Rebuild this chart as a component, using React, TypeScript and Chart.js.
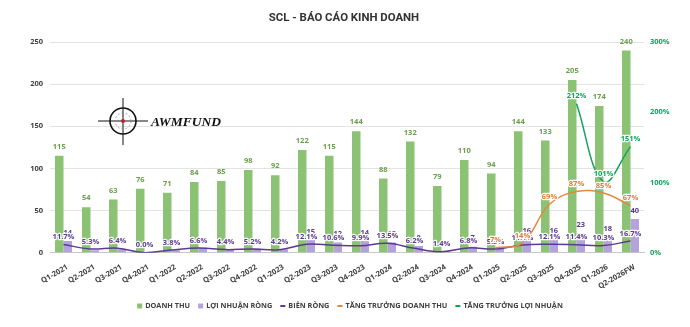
import React, { useEffect, useRef } from "react";
import { Chart, registerables } from "chart.js";

Chart.register(...registerables);

const TITLE = "SCL - BÁO CÁO KINH DOANH";

const categories = [
  "Q1-2021", "Q2-2021", "Q3-2021", "Q4-2021",
  "Q1-2022", "Q2-2022", "Q3-2022", "Q4-2022",
  "Q1-2023", "Q2-2023", "Q3-2023", "Q4-2023",
  "Q1-2024", "Q2-2024", "Q3-2024", "Q4-2024",
  "Q1-2025", "Q2-2025", "Q3-2025", "Q4-2025",
  "Q1-2026", "Q2-2026FW",
];

const revenue = [115, 54, 63, 76, 71, 84, 85, 98, 92, 122, 115, 144, 88, 132, 79, 110, 94, 144, 133, 205, 174, 240];
const netProfit = [14, 3, 4, 0, 3, 6, 4, 5, 4, 15, 12, 14, 12, 8, 1, 7, 5, 16, 16, 23, 18, 40];
const netMargin = [11.7, 5.3, 6.4, 0.0, 3.8, 6.6, 4.4, 5.2, 4.2, 12.1, 10.6, 9.9, 13.5, 6.2, 1.4, 6.8, 5.3, 11.1, 12.1, 11.4, 10.3, 16.7];
const revenueGrowth = [null, null, null, null, null, null, null, null, null, null, null, null, null, null, null, null, 7, 14, 69, 87, 85, 67];
const profitGrowth = [null, null, null, null, null, null, null, null, null, null, null, null, null, null, null, null, null, null, null, 212, 101, 151];

const leftTicks = [0, 50, 100, 150, 200, 250];
const rightTicks = [0, 100, 200, 300];

const legendItems = [
  { label: "DOANH THU", kind: "rect", color: "#8cc273" },
  { label: "LỢI NHUẬN RÒNG", kind: "rect", color: "#b3a2dc" },
  { label: "BIÊN RÒNG", kind: "line", color: "#5b3a93" },
  { label: "TĂNG TRƯỞNG DOANH THU", kind: "line", color: "#e3893f" },
  { label: "TĂNG TRƯỞNG LỢI NHUẬN", kind: "line", color: "#13a25c" },
];

const GREEN_BAR = "#8cc273";
const PURPLE_BAR = "#b3a2dc";
const MARGIN_LINE = "#5b3a93";
const ORANGE = "#e3893f";
const GREEN_LINE = "#13a25c";

const FONT = '"Open Sans", "DejaVu Sans", sans-serif';

const bgPlugin = {
  id: "bg",
  beforeDraw(chart: any) {
    const c = chart.ctx;
    c.save();
    c.fillStyle = "#ffffff";
    c.fillRect(0, 0, chart.width, chart.height);
    c.restore();
  },
};

function haloText(c: CanvasRenderingContext2D, t: string, x: number, y: number, color: string) {
  c.lineJoin = "round";
  c.strokeStyle = "rgba(255,255,255,0.95)";
  c.lineWidth = 2.5;
  c.strokeText(t, x, y);
  c.fillStyle = color;
  c.fillText(t, x, y);
}

const labelPlugin = {
  id: "valueLabels",
  afterDatasetsDraw(chart: any) {
    const c: CanvasRenderingContext2D = chart.ctx;
    c.save();
    c.textAlign = "center";
    c.textBaseline = "middle";
    c.font = `bold 7.5px ${FONT}`;
    const m0 = chart.getDatasetMeta(0);
    m0.data.forEach((el: any, i: number) => {
      c.fillStyle = "#6a9f4b";
      c.fillText(String(revenue[i]), el.x, el.y - 9);
    });
    const m1 = chart.getDatasetMeta(1);
    m1.data.forEach((el: any, i: number) => {
      if (netProfit[i] >= 7) {
        c.fillStyle = "#5b3a93";
        c.fillText(String(netProfit[i]), el.x, el.y - 8.5);
      }
    });
    const m2 = chart.getDatasetMeta(2);
    m2.data.forEach((el: any, i: number) => {
      haloText(c, netMargin[i].toFixed(1) + "%", el.x, el.y - 7.5, "#5b3a93");
    });
    const m3 = chart.getDatasetMeta(3);
    m3.data.forEach((el: any, i: number) => {
      const v = revenueGrowth[i];
      if (v === null || v === undefined) return;
      haloText(c, v + "%", el.x, el.y - 7.5, "#e07b39");
    });
    const m4 = chart.getDatasetMeta(4);
    m4.data.forEach((el: any, i: number) => {
      const v = profitGrowth[i];
      if (v === null || v === undefined) return;
      haloText(c, v + "%", el.x, el.y - 7.5, GREEN_LINE);
    });
    c.restore();
  },
};

const decorPlugin = {
  id: "decor",
  afterDraw(chart: any) {
    const c: CanvasRenderingContext2D = chart.ctx;
    c.save();
    // title
    c.font = `bold 11.4px Roboto, ${FONT}`;
    c.fillStyle = "#333333";
    c.textAlign = "center";
    c.textBaseline = "middle";
    c.fillText(TITLE, 344, 18.5);

    // logo
    const cx = 123, cy = 121;
    c.strokeStyle = "#111111";
    c.lineWidth = 1;
    c.beginPath();
    c.moveTo(98, cy); c.lineTo(148, cy);
    c.moveTo(cx, 98); c.lineTo(cx, 145);
    c.stroke();
    c.lineWidth = 1.6;
    c.beginPath();
    c.arc(cx, cy, 13, 0, Math.PI * 2);
    c.stroke();
    c.setLineDash([2, 2]);
    c.lineWidth = 0.7;
    c.strokeStyle = "#888888";
    c.beginPath();
    c.arc(cx, cy, 8, 0, Math.PI * 2);
    c.stroke();
    c.setLineDash([]);
    c.fillStyle = "#c0202a";
    c.beginPath();
    c.arc(cx, cy, 2, 0, Math.PI * 2);
    c.fill();
    c.font = 'italic bold 13.5px "Liberation Serif", "DejaVu Serif", serif';
    c.fillStyle = "#111111";
    c.textAlign = "left";
    c.textBaseline = "alphabetic";
    c.fillText("AWMFUND", 151, 126);

    // legend
    c.font = `bold 7.3px ${FONT}`;
    c.textBaseline = "middle";
    const gap = 8;
    const mW = 5, mGap = 3;
    const widths = legendItems.map((it) => mW + mGap + c.measureText(it.label).width);
    const total = widths.reduce((a, b) => a + b, 0) + gap * (legendItems.length - 1);
    let x = 350 - total / 2;
    const ly = 306;
    legendItems.forEach((it, i) => {
      c.fillStyle = it.color;
      if (it.kind === "rect") {
        c.fillRect(x, ly - 2.5, 5, 5);
      } else {
        c.fillRect(x, ly - 1, 5, 2);
      }
      c.fillStyle = "#404040";
      c.textAlign = "left";
      c.fillText(it.label, x + mW + mGap, ly);
      x += widths[i] + gap;
    });
    c.restore();
  },
};

export default function App() {
  const ref = useRef<HTMLCanvasElement>(null);
  useEffect(() => {
    document.body.style.margin = "0";
    const canvas = ref.current;
    if (!canvas) return;
    const chart = new Chart(canvas, {
      type: "bar",
      data: {
        labels: categories,
        datasets: [
          {
            type: "bar",
            label: "DOANH THU",
            data: revenue,
            backgroundColor: GREEN_BAR,
            yAxisID: "y",
            order: 2,
            categoryPercentage: 0.63,
            barPercentage: 1,
          },
          {
            type: "bar",
            label: "LỢI NHUẬN RÒNG",
            data: netProfit,
            backgroundColor: PURPLE_BAR,
            yAxisID: "y",
            order: 2,
            categoryPercentage: 0.63,
            barPercentage: 1,
          },
          {
            type: "line",
            label: "BIÊN RÒNG",
            data: netMargin,
            borderColor: MARGIN_LINE,
            borderWidth: 1.5,
            pointRadius: 0,
            tension: 0.4,
            yAxisID: "y1",
            order: 1,
          },
          {
            type: "line",
            label: "TĂNG TRƯỞNG DOANH THU",
            data: revenueGrowth,
            borderColor: ORANGE,
            borderWidth: 1.5,
            pointRadius: 0,
            tension: 0.4,
            yAxisID: "y1",
            order: 0,
          },
          {
            type: "line",
            label: "TĂNG TRƯỞNG LỢI NHUẬN",
            data: profitGrowth,
            borderColor: GREEN_LINE,
            borderWidth: 1.5,
            pointRadius: 0,
            tension: 0.4,
            yAxisID: "y1",
            order: 0,
          },
        ] as any,
      },
      options: {
        responsive: false,
        animation: false,
        layout: { padding: { top: 42, left: 0, right: 0, bottom: 0 } },
        plugins: {
          legend: { display: false },
          title: { display: false },
          tooltip: { enabled: false },
        },
        scales: {
          x: {
            grid: { display: false },
            border: { display: true, color: "#c8c8c8" },
            ticks: {
              autoSkip: false,
              minRotation: 30,
              maxRotation: 30,
              padding: 2,
              labelOffset: 4,
              color: "#404040",
              font: { family: FONT, size: 7.5, weight: "bold" },
            },
            afterFit: (s: any) => {
              s.height = 74.3;
            },
          },
          y: {
            position: "left",
            min: 0,
            max: 250,
            afterBuildTicks: (s: any) => {
              s.ticks = leftTicks.map((v) => ({ value: v }));
            },
            grid: { color: "#e3e3e3", drawTicks: false },
            border: { display: false },
            ticks: {
              padding: 7,
              color: "#404040",
              font: { family: FONT, size: 7.5, weight: "bold" },
            },
            afterFit: (s: any) => {
              s.width = 50;
            },
          },
          y1: {
            position: "right",
            min: 0,
            max: 300,
            afterBuildTicks: (s: any) => {
              s.ticks = rightTicks.map((v) => ({ value: v }));
            },
            grid: { display: false, drawTicks: false },
            border: { display: false },
            ticks: {
              padding: 6,
              color: GREEN_LINE,
              font: { family: FONT, size: 7.5, weight: "bold" },
              callback: (v: any) => v + "%",
            },
            afterFit: (s: any) => {
              s.width = 46;
            },
          },
        },
      } as any,
      plugins: [bgPlugin, labelPlugin, decorPlugin],
    });
    return () => chart.destroy();
  }, []);
  return (
    <div style={{ width: 690, height: 327, position: "relative" }}>
      <canvas ref={ref} width={690} height={327} style={{ display: "block" }} />
    </div>
  );
}
